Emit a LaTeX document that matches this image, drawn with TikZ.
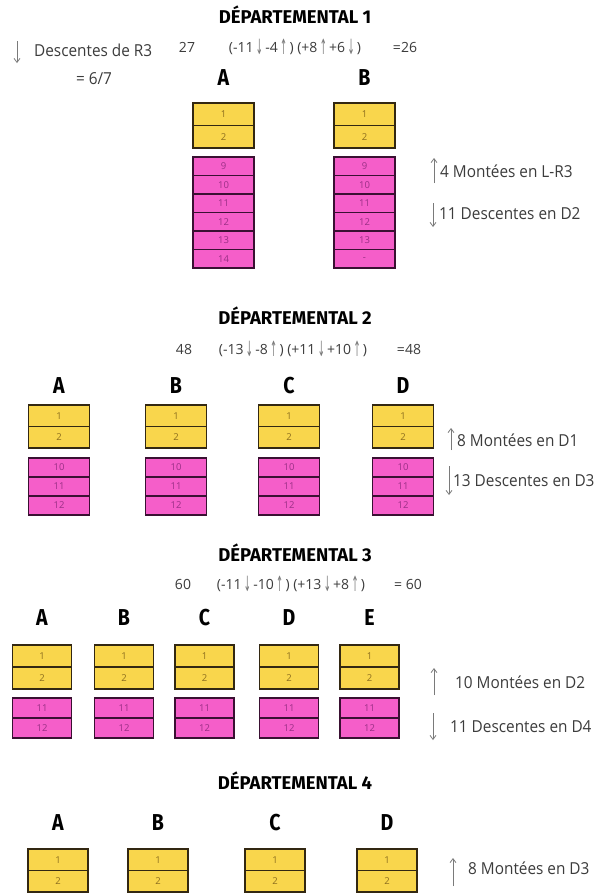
\documentclass[tikz,border=0pt]{standalone}
\usepackage{fontspec}
\setmainfont{Open Sans}
\newfontfamily\titlef{Fira Sans}
\newfontfamily\arrf{DejaVu Sans}
\usetikzlibrary{arrows.meta}
\definecolor{yel}{HTML}{F9D64C}
\definecolor{yelb}{HTML}{332812}
\definecolor{yelt}{HTML}{8C6E1E}
\definecolor{pnk}{HTML}{F55EC9}
\definecolor{pnkb}{HTML}{3A1032}
\definecolor{pnkt}{HTML}{9A2F86}
\definecolor{txt}{HTML}{3C3C3C}
\definecolor{agr}{HTML}{7A7A7A}
\newcommand\ua{{\arrf\color{agr}\,\raisebox{-2.5pt}{\scalebox{0.6}[1.5]{↑}}\,}}
\newcommand\da{{\arrf\color{agr}\,\raisebox{-2.5pt}{\scalebox{0.6}[1.5]{↓}}\,}}
\newcommand\cellstack[7]{%
  \foreach \lab [count=\k] in {#7} {
    \node[#6, minimum width=#4, minimum height=#5] (#1-\k) at (#2, {#3+(\k-0.5)*#5}) {\lab};
  }}
\newcommand\cond[1]{\scalebox{0.85}[1]{#1}}
\newcommand\lt[1]{\scalebox{0.93}[1]{#1}}
\tikzset{
  ycell/.style={draw=yelb, fill=yel, line width=1.8pt, inner sep=0pt, text=yelt, font=\fontsize{9.5}{10}\selectfont},
  pcell/.style={draw=pnkb, fill=pnk, line width=1.8pt, inner sep=0pt, text=pnkt, font=\fontsize{9.5}{10}\selectfont},
  ttl/.style={inner sep=0pt, font=\titlef\bfseries\fontsize{18.5}{19}\selectfont, text=black},
  colh/.style={inner sep=0pt, font=\titlef\bfseries\fontsize{23}{23}\selectfont, text=black},
  lbl/.style={inner sep=0pt, anchor=west, font=\fontsize{16.5}{17}\selectfont, text=txt},
  eqn/.style={inner sep=0pt, font=\fontsize{14}{15}\selectfont, text=txt},
  larr/.style={draw=agr, line width=0.8pt, -{Straight Barb[length=4pt,width=6pt]}}
}
\begin{document}
\begin{tikzpicture}[x=1pt,y=-1pt]
\fill[white] (0,0) rectangle (598,894);
\useasboundingbox (0,0) rectangle (598,894);

% ---------------- Section 1
\node[ttl] (t1) at (295,15) {DÉPARTEMENTAL 1};
\coordinate (l1a) at (17,41); \coordinate (l1b) at (17,63);
\draw[larr] (l1a) -- (l1b);
\node[lbl] (r3) at (34,50) {\lt{Descentes de R3}};
\node[lbl, anchor=center] (r3v) at (94,79) {\lt{= 6/7}};
\node[eqn] (e1a) at (187,47) {27};
\node[eqn] (e1b) at (295,47) {(-11\da-4\ua) (+8\ua+6\da)};
\node[eqn] (e1c) at (405,47) {=26};
\node[colh] (h1a) at (223.5,78) {\cond{A}};
\node[colh] (h1b) at (364.5,78) {\cond{B}};
\cellstack{y1a}{223.5}{103}{61}{22.5}{ycell}{1,2}
\cellstack{y1b}{364.5}{103}{61}{22.5}{ycell}{1,2}
\cellstack{p1a}{223.5}{157}{61}{18.5}{pcell}{9,10,11,12,13,14}
\cellstack{p1b}{364.5}{157}{61}{18.5}{pcell}{9,10,11,12,13,-}
\coordinate (u1a) at (434,183); \coordinate (u1b) at (434,158);
\draw[larr] (u1a) -- (u1b);
\node[lbl] (m1) at (440,171) {\lt{4 Montées en L-R3}};
\coordinate (d1a) at (433,203); \coordinate (d1b) at (433,227);
\draw[larr] (d1a) -- (d1b);
\node[lbl] (n1) at (439,214) {\lt{11 Descentes en D2}};

% ---------------- Section 2
\node[ttl] (t2) at (295,316) {DÉPARTEMENTAL 2};
\node[eqn] (e2a) at (184,349) {48};
\node[eqn] (e2b) at (293,349) {(-13\da-8\ua) (+11\da+10\ua)};
\node[eqn] (e2c) at (409,349) {=48};
\node[colh] (h2a) at (59,386) {\cond{A}};
\node[colh] (h2b) at (176,386) {\cond{B}};
\node[colh] (h2c) at (289,386) {\cond{C}};
\node[colh] (h2d) at (403,386) {\cond{D}};
\cellstack{y2a}{59}{405}{61}{21.5}{ycell}{1,2}
\cellstack{y2b}{176}{405}{61}{21.5}{ycell}{1,2}
\cellstack{y2c}{289}{405}{61}{21.5}{ycell}{1,2}
\cellstack{y2d}{403}{405}{61}{21.5}{ycell}{1,2}
\cellstack{p2a}{59}{458}{61}{19}{pcell}{10,11,12}
\cellstack{p2b}{176}{458}{61}{19}{pcell}{10,11,12}
\cellstack{p2c}{289}{458}{61}{19}{pcell}{10,11,12}
\cellstack{p2d}{403}{458}{61}{19}{pcell}{10,11,12}
\coordinate (u2a) at (451,450); \coordinate (u2b) at (451,428);
\draw[larr] (u2a) -- (u2b);
\node[lbl] (m2) at (457,440) {\lt{8 Montées en D1}};
\coordinate (d2a) at (449,466); \coordinate (d2b) at (449,495);
\draw[larr] (d2a) -- (d2b);
\node[lbl] (n2) at (453,481) {\lt{13 Descentes en D3}};

% ---------------- Section 3
\node[ttl] (t3) at (295,553) {DÉPARTEMENTAL 3};
\node[eqn] (e3a) at (183,584) {60};
\node[eqn] (e3b) at (291,584) {(-11\da-10\ua) (+13\da+8\ua)};
\node[eqn] (e3c) at (408,584) {= 60};
\node[colh] (h3a) at (42,618) {\cond{A}};
\node[colh] (h3b) at (124,618) {\cond{B}};
\node[colh] (h3c) at (204.5,618) {\cond{C}};
\node[colh] (h3d) at (289,618) {\cond{D}};
\node[colh] (h3e) at (369.5,618) {\cond{E}};
\cellstack{y3a}{42}{645}{59}{22}{ycell}{1,2}
\cellstack{y3b}{124}{645}{59}{22}{ycell}{1,2}
\cellstack{y3c}{204.5}{645}{59}{22}{ycell}{1,2}
\cellstack{y3d}{289}{645}{59}{22}{ycell}{1,2}
\cellstack{y3e}{369.5}{645}{59}{22}{ycell}{1,2}
\cellstack{p3a}{42}{698}{59}{20}{pcell}{11,12}
\cellstack{p3b}{124}{698}{59}{20}{pcell}{11,12}
\cellstack{p3c}{204.5}{698}{59}{20}{pcell}{11,12}
\cellstack{p3d}{289}{698}{59}{20}{pcell}{11,12}
\cellstack{p3e}{369.5}{698}{59}{20}{pcell}{11,12}
\coordinate (u3a) at (434,695); \coordinate (u3b) at (434,668);
\draw[larr] (u3a) -- (u3b);
\node[lbl] (m3) at (455,682) {\lt{10 Montées en D2}};
\coordinate (d3a) at (433,713); \coordinate (d3b) at (433,740);
\draw[larr] (d3a) -- (d3b);
\node[lbl] (n3) at (450,727) {\lt{11 Descentes en D4}};

% ---------------- Section 4
\node[ttl] (t4) at (295,781) {DÉPARTEMENTAL 4};
\node[colh] (h4a) at (58,823) {\cond{A}};
\node[colh] (h4b) at (158,823) {\cond{B}};
\node[colh] (h4c) at (275,823) {\cond{C}};
\node[colh] (h4d) at (387,823) {\cond{D}};
\cellstack{y4a}{58}{849}{60}{21.5}{ycell}{1,2}
\cellstack{y4b}{158}{849}{60}{21.5}{ycell}{1,2}
\cellstack{y4c}{275}{849}{60}{21.5}{ycell}{1,2}
\cellstack{y4d}{387}{849}{60}{21.5}{ycell}{1,2}
\coordinate (u4a) at (453,886); \coordinate (u4b) at (453,858);
\draw[larr] (u4a) -- (u4b);
\node[lbl] (m4) at (468,868) {\lt{8 Montées en D3}};
\end{tikzpicture}
\end{document}
